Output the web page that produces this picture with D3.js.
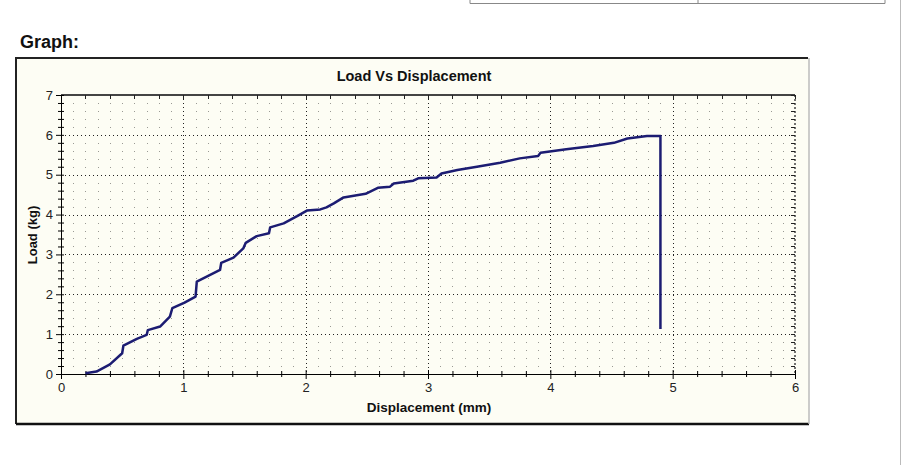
<!DOCTYPE html>
<html>
<head>
<meta charset="utf-8">
<script src="https://cdn.jsdelivr.net/npm/d3@7"></script>
<style>
  body { margin: 0; background: #fff; }
  svg { display: block; font-family: "Liberation Sans", Arial, sans-serif; }
</style>
</head>
<body>
<div class="chart-container"></div>
<script>
// Data
const displacement = [0.20, 0.29, 0.40, 0.50, 0.51, 0.62, 0.70, 0.71, 0.81, 0.89,
  0.91, 1.01, 1.10, 1.11, 1.30, 1.31, 1.41, 1.49, 1.51, 1.60,
  1.70, 1.71, 1.82, 1.93, 2.01, 2.12, 2.17, 2.23, 2.31, 2.49,
  2.59, 2.69, 2.72, 2.88, 2.92, 3.07, 3.11, 3.24, 3.40, 3.59,
  3.75, 3.90, 3.92, 4.13, 4.35, 4.52, 4.63, 4.79, 4.90, 4.90];
const load = [0.02, 0.06, 0.24, 0.52, 0.71, 0.88, 0.98, 1.10, 1.19, 1.44,
  1.65, 1.79, 1.94, 2.32, 2.61, 2.79, 2.92, 3.15, 3.29, 3.46,
  3.53, 3.68, 3.78, 3.96, 4.10, 4.13, 4.18, 4.28, 4.43, 4.52,
  4.67, 4.70, 4.78, 4.85, 4.91, 4.93, 5.03, 5.12, 5.20, 5.30,
  5.41, 5.47, 5.55, 5.64, 5.72, 5.80, 5.91, 5.97, 5.97, 1.13];
const xTicks = [0, 1, 2, 3, 4, 5, 6];
const yTicks = [0, 1, 2, 3, 4, 5, 6, 7];

const points = displacement.map((d, i) => ({ x: d, y: load[i] }));
const isWhole = d => Math.abs(d - Math.round(d)) < 1e-6;

const svg_width = 902;
const svg_height = 465;
const svg = d3.select('.chart-container').append('svg')
  .attr('width', svg_width).attr('height', svg_height);

// page bits around the chart
svg.append('path')
  .attr('d', 'M470,0V3.5H885V0M698,0V3.5')
  .attr('fill', 'none').attr('stroke', '#888').attr('stroke-width', 1);
svg.append('line')
  .attr('x1', 900.5).attr('x2', 900.5).attr('y1', 0).attr('y2', svg_height)
  .attr('stroke', '#bbb');
svg.append('text').text('Graph:')
  .attr('x', 20).attr('y', 48)
  .style('font-size', '18px').style('font-weight', 'bold').style('fill', '#111');

// chart frame
svg.append('rect')
  .attr('x', 16).attr('y', 58).attr('width', 793).attr('height', 366)
  .attr('fill', '#fdfdf4');
svg.append('path')
  .attr('d', 'M16,424V58H808')
  .attr('fill', 'none').attr('stroke', '#222').attr('stroke-width', 2);
svg.append('line')
  .attr('x1', 16).attr('x2', 809).attr('y1', 424).attr('y2', 424)
  .attr('stroke', '#111').attr('stroke-width', 2.5);
svg.append('line')
  .attr('x1', 809).attr('x2', 809).attr('y1', 58).attr('y2', 424)
  .attr('stroke', '#bbb').attr('stroke-width', 1.5);

const xScale = d3.scaleLinear().domain([0, 6]).range([61, 795]);
const yScale = d3.scaleLinear().domain([0, 7]).range([374, 95]);

// grid: minor dot lattice then major dotted lines
const grid = svg.append('g').attr('class', 'grid');
const xMinor = d3.range(1, 60).map(d => d / 10).filter(d => !isWhole(d));
const yMinor = d3.range(1, 35).map(d => d / 5).filter(d => !isWhole(d));

grid.selectAll('.dot').data(d3.cross(xMinor, yMinor)).enter().append('rect')
  .attr('class', 'dot')
  .attr('x', d => Math.round(xScale(d[0])))
  .attr('y', d => Math.round(yScale(d[1])))
  .attr('width', 1).attr('height', 1)
  .attr('fill', '#9a9a94');
grid.selectAll('.vmajor').data(xTicks.slice(1, -1)).enter().append('line')
  .attr('class', 'vmajor')
  .attr('x1', d => Math.round(xScale(d)) + 0.5).attr('x2', d => Math.round(xScale(d)) + 0.5)
  .attr('y1', yScale(7)).attr('y2', yScale(0))
  .attr('stroke', '#222').attr('stroke-dasharray', '1,3');
grid.selectAll('.hmajor').data(yTicks.slice(1, -1)).enter().append('line')
  .attr('class', 'hmajor')
  .attr('y1', d => Math.round(yScale(d)) + 0.5).attr('y2', d => Math.round(yScale(d)) + 0.5)
  .attr('x1', xScale(0)).attr('x2', xScale(6))
  .attr('stroke', '#222').attr('stroke-dasharray', '1,3');

// top and right borders of plot
svg.append('line')
  .attr('x1', xScale(0)).attr('x2', xScale(6)).attr('y1', yScale(7)).attr('y2', yScale(7))
  .attr('stroke', '#444').attr('stroke-width', 2);
svg.append('line')
  .attr('x1', xScale(6)).attr('x2', xScale(6)).attr('y1', yScale(7)).attr('y2', yScale(0))
  .attr('stroke', '#444').attr('stroke-width', 1.5).attr('stroke-dasharray', '2,2');

const tick02 = d3.range(0, 31).map(d => d / 5);
const tickY02 = d3.range(0, 36).map(d => d / 5);
svg.append('g').selectAll('line').data(tick02).enter().append('line')
  .attr('x1', d => Math.round(xScale(d)) + 0.5).attr('x2', d => Math.round(xScale(d)) + 0.5)
  .attr('y1', yScale(7)).attr('y2', yScale(7) + 4)
  .attr('stroke', '#222');
svg.append('g').selectAll('line').data(tickY02).enter().append('line')
  .attr('y1', d => Math.round(yScale(d)) + 0.5).attr('y2', d => Math.round(yScale(d)) + 0.5)
  .attr('x1', xScale(6) - 4).attr('x2', xScale(6))
  .attr('stroke', '#222');

// axes
const xAxis = d3.axisBottom(xScale).tickValues(tick02)
  .tickFormat(d => (isWhole(d) ? d3.format('d')(d) : ''))
  .tickSizeOuter(0);
const xAxisDraw = svg.append('g').attr('class', 'x axis')
  .attr('transform', `translate(0,${yScale(0)})`)
  .call(xAxis);
xAxisDraw.select('.domain').attr('stroke', '#000');
xAxisDraw.selectAll('.tick line')
  .attr('y1', d => (isWhole(d) ? -4 : -3))
  .attr('y2', d => (isWhole(d) ? 5 : 3))
  .attr('stroke', '#000');
xAxisDraw.selectAll('text')
  .attr('y', 9).style('font-size', '13px').style('fill', '#222');

const yAxis = d3.axisLeft(yScale).tickValues(tickY02)
  .tickFormat(d => (isWhole(d) ? d3.format('d')(d) : ''))
  .tickSizeOuter(0);
const yAxisDraw = svg.append('g').attr('class', 'y axis')
  .attr('transform', `translate(${xScale(0)},0)`)
  .call(yAxis);
yAxisDraw.select('.domain').attr('stroke', '#000');
yAxisDraw.selectAll('.tick line')
  .attr('x1', 3)
  .attr('x2', d => (isWhole(d) ? -5 : -3))
  .attr('stroke', '#000');
yAxisDraw.selectAll('text')
  .attr('x', -8).style('font-size', '13px').style('fill', '#222');

// labels
svg.append('text').text('Load Vs Displacement')
  .attr('x', 414).attr('y', 81).attr('text-anchor', 'middle')
  .style('font-size', '14.5px').style('font-weight', 'bold').style('fill', '#111');
svg.append('text').text('Displacement (mm)')
  .attr('x', 429).attr('y', 412).attr('text-anchor', 'middle')
  .style('font-size', '13.5px').style('font-weight', 'bold').style('fill', '#111');
svg.append('text').text('Load (kg)')
  .attr('transform', 'translate(37,235) rotate(-90)').attr('text-anchor', 'middle')
  .style('font-size', '13px').style('font-weight', 'bold').style('fill', '#111');

// curve
const line = d3.line().x(d => xScale(d.x)).y(d => yScale(d.y));
svg.append('path').datum(points)
  .attr('d', line)
  .attr('fill', 'none')
  .attr('stroke', '#1c1c72')
  .attr('stroke-width', 2.5)
  .attr('stroke-linejoin', 'round');
</script>
</body>
</html>
